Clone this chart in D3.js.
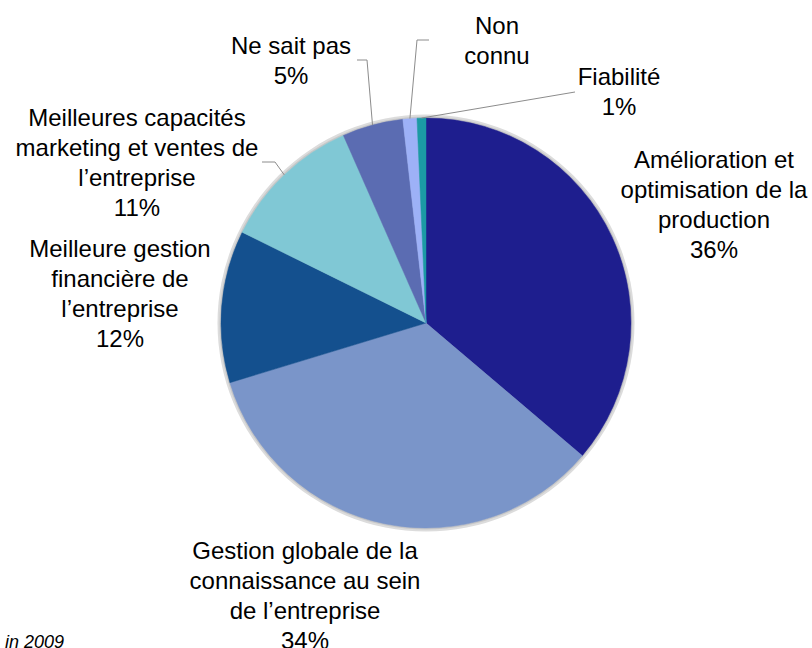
<!DOCTYPE html>
<html>
<head>
<meta charset="utf-8">
<script src="https://cdn.jsdelivr.net/npm/d3@7"></script>
<style>
  html, body { margin: 0; padding: 0; background: #fff; }
  svg { display: block; }
  text { font-family: "Liberation Sans", Arial, sans-serif; fill: #000; }
</style>
</head>
<body>
<script>
// ---- data ----
const categories = [
  "Amélioration et optimisation de la production",
  "Gestion globale de la connaissance au sein de l’entreprise",
  "Meilleure gestion financière de l’entreprise",
  "Meilleures capacités marketing et ventes de l’entreprise",
  "Ne sait pas",
  "Non connu",
  "Fiabilité"
];
const values = [36.2, 34.1, 12.0, 11.1, 4.8, 1.1, 0.7];
const percentLabels = ["36%", "34%", "12%", "11%", "5%", null, "1%"];
const labelLines = [
  ["Amélioration et", "optimisation de la", "production"],
  ["Gestion globale de la", "connaissance au sein", "de l’entreprise"],
  ["Meilleure gestion", "financière de", "l’entreprise"],
  ["Meilleures capacités", "marketing et ventes de", "l’entreprise"],
  ["Ne sait pas"],
  ["Non", "connu"],
  ["Fiabilité"]
];
const colors = ["#1E1E8E", "#7A95C9", "#14508E", "#80C8D5", "#5B6CB2", "#9DB1F7", "#1B9AA5"];
const footnote = "in 2009";

// ---- layout ----
const W = 812, H = 648;
const cx = 426, cy = 323, R = 205;
const lineH = 30;
// label anchor: center x and first baseline; leader: elbow + end points (null = none)
const labelLayout = [
  { x: 714, y: 168, leader: null },
  { x: 305, y: 559, leader: null },
  { x: 120, y: 257, leader: null },
  { x: 137, y: 126, leader: [[275, 162], [262, 162]] },
  { x: 291, y: 54,  leader: [[367, 60], [357, 60]] },
  { x: 497, y: 34,  leader: [[417, 40], [429, 40]] },
  { x: 619, y: 85,  leader: [[575, 92]] }
];

const svg = d3.select("body").append("svg")
  .attr("width", W).attr("height", H)
  .attr("viewBox", `0 0 ${W} ${H}`);

const data = categories.map((c, i) => ({ cat: c, value: values[i], i }));

const pie = d3.pie().value(d => d.value).sort(null);
const arcs = pie(data);
const arc = d3.arc().innerRadius(0).outerRadius(R);

const g = svg.append("g").attr("transform", `translate(${cx},${cy})`);

// soft outline / shadow ring
g.append("circle").attr("r", R + 3.5).attr("fill", "#dcdcdc");
g.append("circle").attr("r", R + 1.5).attr("fill", "#c8c8c8");

g.selectAll("path.slice")
  .data(arcs)
  .join("path")
  .attr("class", "slice")
  .attr("d", arc)
  .attr("fill", d => colors[d.data.i])
  .attr("stroke", d => colors[d.data.i])
  .attr("stroke-width", 0.5);

// leader lines
arcs.forEach(a => {
  const lay = labelLayout[a.data.i];
  if (!lay.leader) return;
  const mid = (a.startAngle + a.endAngle) / 2;
  const p0 = [cx + R * Math.sin(mid), cy - R * Math.cos(mid)];
  const pts = [p0].concat(lay.leader);
  svg.append("path")
    .attr("d", d3.line()(pts))
    .attr("fill", "none")
    .attr("stroke", "#8c8c8c")
    .attr("stroke-width", 1);
});

// labels
arcs.forEach(a => {
  const i = a.data.i;
  const lay = labelLayout[i];
  const lines = labelLines[i].concat(percentLabels[i] ? [percentLabels[i]] : []);
  const t = svg.append("text")
    .attr("text-anchor", "middle")
    .attr("font-size", 24);
  lines.forEach((ln, k) => {
    t.append("tspan")
      .attr("x", lay.x)
      .attr("y", lay.y + k * lineH)
      .text(ln);
  });
});

// footnote (cut off at bottom-left, as in the source)
svg.append("text")
  .attr("x", 64).attr("y", 648)
  .attr("text-anchor", "end")
  .attr("font-size", 18)
  .attr("font-style", "italic")
  .text(footnote);
</script>
</body>
</html>
